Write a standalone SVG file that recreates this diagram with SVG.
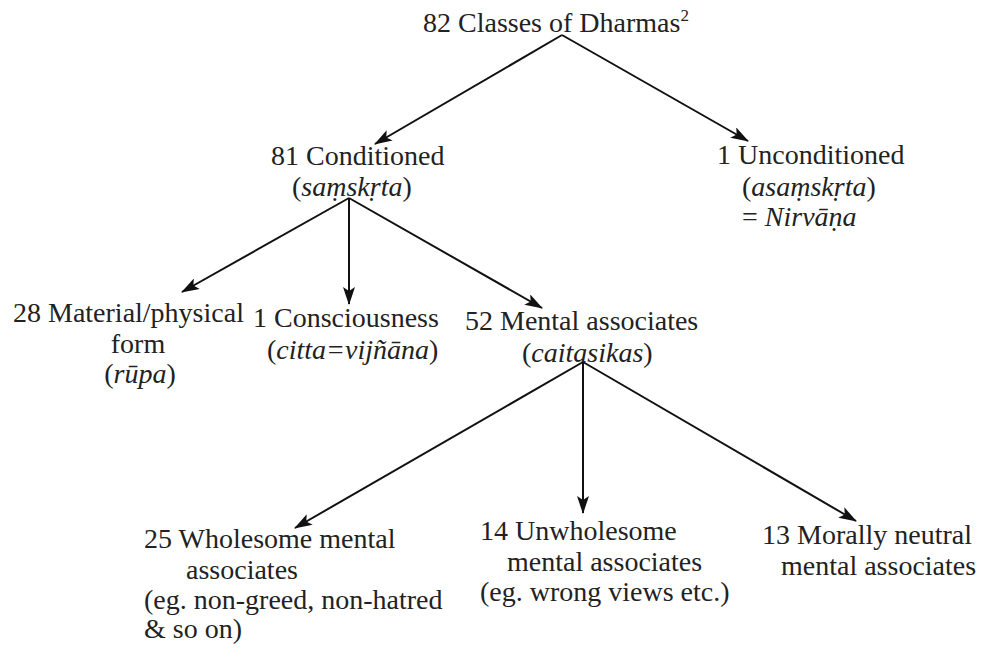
<svg xmlns="http://www.w3.org/2000/svg" width="983" height="650" viewBox="0 0 983 650">
<defs>
<marker id="ah" markerWidth="18" markerHeight="12" refX="17" refY="6" orient="auto" markerUnits="userSpaceOnUse">
<path d="M0,0 L18,6 L0,12 L4,6 Z" fill="#111"/>
</marker>
<style>
text{font-family:"Liberation Serif","Times New Roman",serif;font-size:28px;fill:#222}
.i{font-style:italic}
.c{text-anchor:middle}
.edge{stroke:#111;stroke-width:2;fill:none;marker-end:url(#ah)}
</style>
</defs>
<rect width="983" height="650" fill="#fff"/>
<g id="connectors">
<line class="edge" x1="562" y1="35" x2="375" y2="144"/>
<line class="edge" x1="562" y1="35" x2="748" y2="141"/>
<line class="edge" x1="349" y1="198" x2="182" y2="292"/>
<line class="edge" x1="349" y1="198" x2="349" y2="304"/>
<line class="edge" x1="349" y1="198" x2="542" y2="308"/>
<line class="edge" x1="583" y1="362" x2="295" y2="528"/>
<line class="edge" x1="583" y1="362" x2="583" y2="513"/>
<line class="edge" x1="583" y1="362" x2="856" y2="521"/>
</g>
<g id="root"><text x="423" y="32">82 Classes of Dharmas<tspan dy="-11" font-size="17">2</tspan></text></g>
<g id="conditioned"><text x="271" y="165">81 Conditioned</text><text x="292" y="196">(<tspan class="i">saṃskṛta</tspan>)</text></g>
<g id="unconditioned"><text x="717" y="164">1 Unconditioned</text><text x="742" y="196">(<tspan class="i">asaṃskṛta</tspan>)</text><text x="742" y="226">= <tspan class="i">Nirvāṇa</tspan></text></g>
<g id="material"><text x="13" y="322">28 Material/physical</text><text class="c" x="138" y="353">form</text><text class="c" x="140" y="383">(<tspan class="i">rūpa</tspan>)</text></g>
<g id="consciousness"><text x="253" y="327">1 Consciousness</text><text x="267" y="359">(<tspan class="i">citta=vijñāna</tspan>)</text></g>
<g id="mental"><text x="465" y="330">52 Mental associates</text><text x="522" y="362">(<tspan class="i">caitasikas</tspan>)</text></g>
<g id="wholesome"><text x="144" y="548">25 Wholesome mental</text><text x="186" y="579">associates</text><text x="144" y="609">(eg. non-greed, non-hatred</text><text x="144" y="638">&amp; so on)</text></g>
<g id="unwholesome"><text x="480" y="540">14 Unwholesome</text><text x="507" y="571">mental associates</text><text x="480" y="601">(eg. wrong views etc.)</text></g>
<g id="neutral"><text x="762" y="544">13 Morally neutral</text><text x="781" y="575">mental associates</text></g>
</svg>
